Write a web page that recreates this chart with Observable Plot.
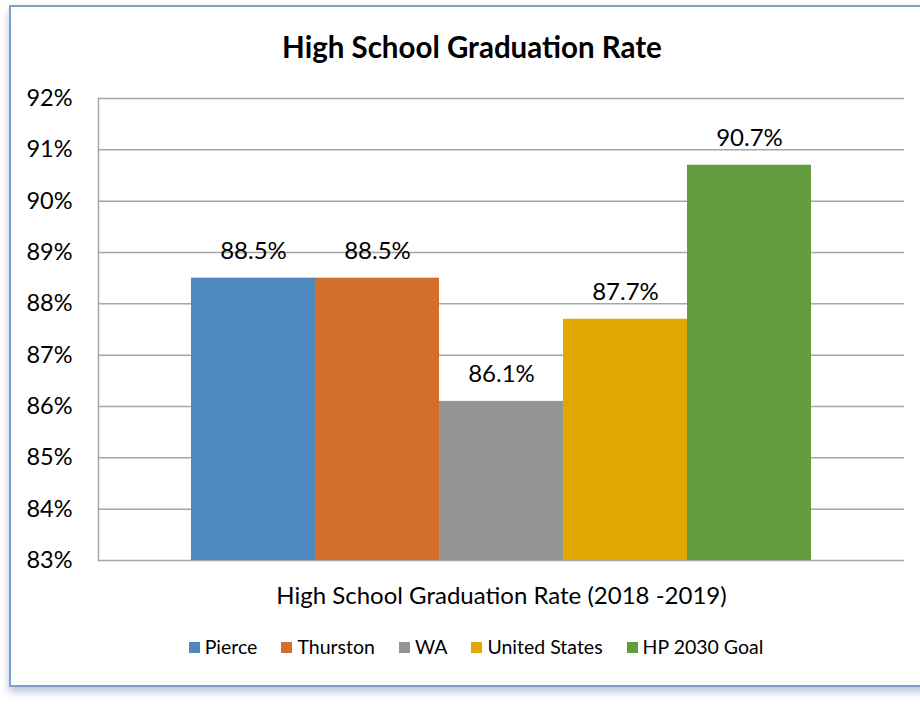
<!DOCTYPE html>
<html>
<head>
<meta charset="utf-8">
<script src="https://cdn.jsdelivr.net/npm/d3@7"></script>
<script src="https://cdn.jsdelivr.net/npm/@observablehq/plot@0.6"></script>
<style>
  body { margin: 0; background: #fff; width: 920px; height: 707px; overflow: hidden; position: relative; font-family: Lato, "Open Sans", sans-serif; }
  #frame { position: absolute; left: 9px; top: 5px; width: 940px; height: 678px; border: 2px solid #7ea0d0; border-right: none; box-shadow: 0 5px 8px rgba(100,130,180,0.45); background: #fff; }
  #title { position: absolute; left: 0; width: 944px; top: 29px; text-align: center; font-weight: bold; font-size: 29.5px; line-height: 36px; color: #000; }
  #chart { position: absolute; left: 0; top: 0; }
  #legend { position: absolute; left: 0; width: 952px; top: 635px; display: flex; justify-content: center; }
  #legend .sw { display: inline-flex; align-items: center; margin: 0 12px; font-size: 19.5px; line-height: 24px; color: #000; }
  #legend .sw span.box { display: inline-block; width: 11px; height: 11px; margin-right: 5px; }
</style>
</head>
<body>
<div id="frame"></div>
<div id="title">High School Graduation Rate</div>
<div id="chart"></div>
<div id="legend"></div>
<script>
const category = "High School Graduation Rate (2018 -2019)";
const series = ["Pierce", "Thurston", "WA", "United States", "HP 2030 Goal"];
const values = [88.5, 88.5, 86.1, 87.7, 90.7];
const colors = ["#4f88bc", "#d36e2c", "#959595", "#e0a800", "#629c3e"];
const yTicks = [83, 84, 85, 86, 87, 88, 89, 90, 91, 92];

const data = series.map((s, i) => ({category, series: s, value: values[i]}));
const yMin = yTicks[0];

const plot = Plot.plot({
  width: 920,
  height: 640,
  marginTop: 98,
  marginBottom: 80,
  marginLeft: 98,
  marginRight: 16,
  style: {fontFamily: "Lato, 'Open Sans', sans-serif", background: "transparent", color: "#000", overflow: "visible"},
  fx: {domain: [category], padding: 0, label: null},
  x: {domain: series, padding: 0, insetLeft: 93, insetRight: 93, axis: null, label: null},
  y: {domain: [yTicks[0], yTicks[yTicks.length - 1]], label: null},
  color: {domain: series, range: colors},
  marks: [
    Plot.ruleY(yTicks, {stroke: "#a6a6a6", strokeWidth: 1.5}),
    Plot.frame({anchor: "left", stroke: "#a6a6a6", strokeWidth: 1.5}),
    Plot.barY(data, {fx: "category", x: "series", y1: yMin, y2: "value", fill: "series"}),
    Plot.text(data, {fx: "category", x: "series", y: "value", text: d => d.value.toFixed(1) + "%", dy: -27, fontSize: 24, fill: "#000"}),
    Plot.axisY({ticks: yTicks, tickFormat: d => d + "%", tickSize: 0, tickPadding: 26, fontSize: 23.5, fill: "#000", label: null}),
    Plot.axisFx({anchor: "bottom", tickSize: 0, tickPadding: 26, fontSize: 24, label: null, fill: "#000"})
  ]
});
document.getElementById("chart").appendChild(plot);

const leg = document.getElementById("legend");
series.forEach((s, i) => {
  const el = document.createElement("span");
  el.className = "sw";
  const b = document.createElement("span");
  b.className = "box";
  b.style.background = colors[i];
  el.appendChild(b);
  el.appendChild(document.createTextNode(s));
  leg.appendChild(el);
});
</script>
</body>
</html>
